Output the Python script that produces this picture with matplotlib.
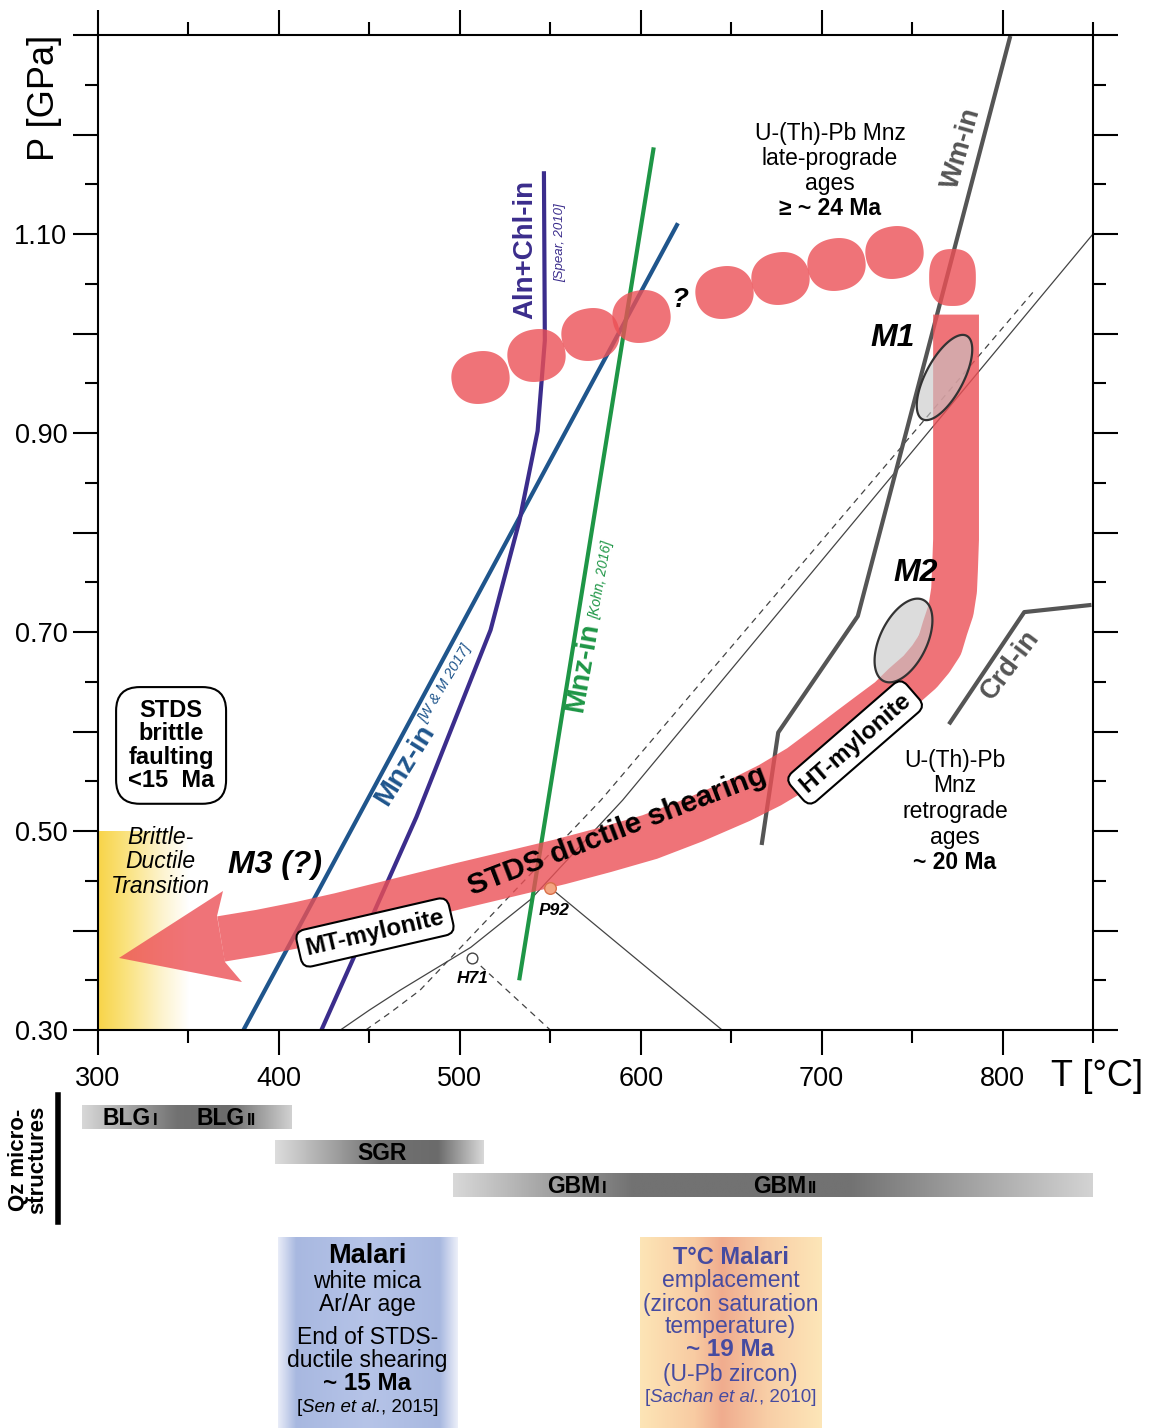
import numpy as np
import matplotlib
matplotlib.use('Agg')
import matplotlib.pyplot as plt
from matplotlib.path import Path
from matplotlib.lines import Line2D
from matplotlib.patches import Polygon
from matplotlib.ticker import FixedLocator, FuncFormatter

plt.rcParams['font.family'] = ['Liberation Sans', 'DejaVu Sans']

# ---------------- data (T in degC, P in GPa) ----------------
# reaction lines
mnz_wm_T = [381, 620]
mnz_wm_P = [0.302, 1.109]
aln_T = [424, 476, 517, 533, 543, 547, 546.5]
aln_P = [0.302, 0.514, 0.702, 0.812, 0.902, 0.993, 1.161]
mnz_kohn_T = [533, 607]
mnz_kohn_P = [0.352, 1.185]
wm_T = [667, 676, 720, 804]
wm_P = [0.488, 0.599, 0.716, 1.297]
crd_T = [771, 812, 848]
crd_P = [0.609, 0.720, 0.727]
# thin geotherm-like lines
geo_T = [434, 450, 467, 486, 506, 539, 590, 850]
geo_P = [0.300, 0.320, 0.340, 0.361, 0.383, 0.431, 0.531, 1.100]
geo_dash_T = [448, 462, 478, 578, 818]
geo_dash_P = [0.300, 0.318, 0.340, 0.531, 1.044]
p92_T, p92_P = 550, 0.443
p92_line_T = [550, 645]
p92_line_P = [0.443, 0.300]
h71_T, h71_P = 507, 0.372
h71_line_T = [507, 550]
h71_line_P = [0.372, 0.300]

# prograde monazite blobs
prograde_T = [511, 542, 572, 600, 646, 677, 708, 740]
prograde_P = [0.956, 0.978, 1.000, 1.018, 1.042, 1.056, 1.070, 1.082]
peak_T, peak_P = 772, 1.057

# retrograde P-T path (centre line, from peak to the arrow) and arrow head
path_T = [774.3, 774.3, 773.7, 773.2, 771.5, 768.2, 765.4, 760.4, 754.4,
          745.6, 737.8, 726.7, 715.7, 702.0, 688.0, 671.4, 654.9, 629.5,
          605.1, 580.2, 555.4, 527.8, 500.1, 478.0, 455.9, 433.8, 411.7,
          389.6, 368.0]
path_P = [1.019, 0.793, 0.762, 0.742, 0.722, 0.704, 0.687, 0.673, 0.660,
          0.646, 0.632, 0.617, 0.602, 0.583, 0.564, 0.546, 0.531, 0.511,
          0.494, 0.481, 0.469, 0.457, 0.445, 0.435, 0.425, 0.415, 0.406,
          0.398, 0.3915]
head_T = [365.8, 369.1, 311.6, 379.6, 370.2]
head_P = [0.4146, 0.4397, 0.3724, 0.3482, 0.3683]

# metamorphic stages (ellipses)
m1_T, m1_P = 767.7, 0.956
m2_T, m2_P = 745.0, 0.692

# Qz microstructure ranges (degC)
blg_range = (291, 407)
sgr_range = (398, 513)
gbm_range = (496, 849.5)
malari_ar_range = (399.5, 498.5)
malari_zr_range = (599.6, 699.7)

# ---------------- figure ----------------
W, H = 1151, 1428
fig = plt.figure(figsize=(W / 100, H / 100), dpi=100)
ax = fig.add_axes([98 / W, 1 - 1030 / H, 995 / W, 995 / H])
ax.set_xlim(300, 850)
ax.set_ylim(0.30, 1.30)


def hgrad(axis, x0, x1, y0, y1, stops, z=1):
    pos = np.array([s[0] for s in stops])
    cols = np.array([s[1] for s in stops], dtype=float) / 255.0
    xs = np.linspace(0, 1, 300)
    img = np.stack([np.interp(xs, pos, cols[:, k]) for k in range(3)], axis=-1)[None, :, :]
    im = axis.imshow(img, extent=[x0, x1, y0, y1], aspect='auto',
                     interpolation='bilinear', zorder=z)
    im.set_clip_on(False)
    return im


# brittle-ductile transition zone
hgrad(ax, 300, 350, 0.30, 0.50,
      [(0, (248, 212, 72)), (0.3, (250, 226, 125)), (0.7, (253, 243, 205)), (1, (255, 255, 255))])

# thin lines
ax.plot(geo_T, geo_P, color='#444444', lw=0.9, zorder=2)
ax.plot(geo_dash_T, geo_dash_P, color='#444444', lw=0.9, ls=(0, (5, 4)), zorder=2)
ax.plot(p92_line_T, p92_line_P, color='#444444', lw=0.9, zorder=2)
ax.plot(h71_line_T, h71_line_P, color='#444444', lw=0.9, ls=(0, (5, 4)), zorder=2)

# reaction lines
ax.plot(mnz_wm_T, mnz_wm_P, color='#1f558c', lw=3, zorder=2.2)
ax.plot(aln_T, aln_P, color='#3b2d8c', lw=3, zorder=2.2)
ax.plot(mnz_kohn_T, mnz_kohn_P, color='#1e9646', lw=3, zorder=2.2)
ax.plot(wm_T, wm_P, color='#555555', lw=3, zorder=2.2)
ax.plot(crd_T, crd_P, color='#555555', lw=3, zorder=2.2)

RED = '#ec5056'


def superellipse(w, h, n=2.2, tilt=0.0):
    t = np.linspace(0, 2 * np.pi, 120, endpoint=False)
    c, s = np.cos(t), np.sin(t)
    x = w * np.sign(c) * np.abs(c) ** (2 / n)
    y = h * np.sign(s) * np.abs(s) ** (2 / n)
    a = np.deg2rad(tilt)
    xr = x * np.cos(a) - y * np.sin(a)
    yr = x * np.sin(a) + y * np.cos(a)
    v = np.column_stack([xr, yr])
    return Path(np.vstack([v, v[:1]]), closed=True)


# prograde blobs
ax.scatter(prograde_T, prograde_P, marker=superellipse(1.0, 0.9, tilt=10),
           s=42 ** 2, color=RED, alpha=0.8, lw=0, zorder=3)
ax.scatter([peak_T], [peak_P], marker=superellipse(0.82, 1.0, n=2.6),
           s=41 ** 2, color=RED, alpha=0.8, lw=0, zorder=3)

# retrograde path
ax.plot(path_T, path_P, color=RED, alpha=0.8, lw=33, solid_capstyle='butt',
        solid_joinstyle='round', zorder=3)
ax.add_patch(Polygon(np.column_stack([head_T, head_P]), closed=True,
                     fc=RED, ec='none', alpha=0.8, zorder=3))


def ellipse_marker(ratio, angle):
    t = np.linspace(0, 2 * np.pi, 120, endpoint=False)
    x, y = np.cos(t), ratio * np.sin(t)
    a = np.deg2rad(angle)
    v = np.column_stack([x * np.cos(a) - y * np.sin(a), x * np.sin(a) + y * np.cos(a)])
    return Path(np.vstack([v, v[:1]]), closed=True), np.max(np.abs(v))


for (T, P, L, r, ang) in [(m1_T, m1_P, 68, 0.40, 62), (m2_T, m2_P, 65, 0.52, 64)]:
    mk, resc = ellipse_marker(r, ang)
    ax.scatter([T], [P], marker=mk, s=(L * resc) ** 2,
               facecolors=[(0.78, 0.78, 0.78, 0.62)], edgecolors='#333333',
               linewidths=1.6, zorder=4)

# sample points
ax.scatter([p92_T], [p92_P], s=70, facecolors='#f4a582', edgecolors='#d9704a', lw=1, zorder=4)
ax.scatter([h71_T], [h71_P], s=60, facecolors='white', edgecolors='#444444', lw=1, zorder=4)

# ---------------- axes styling ----------------
ax.xaxis.set_major_locator(FixedLocator([300, 400, 500, 600, 700, 800]))
ax.xaxis.set_minor_locator(FixedLocator([350, 450, 550, 650, 750, 850]))
ax.yaxis.set_major_locator(FixedLocator(np.round(np.arange(0.3, 1.31, 0.1), 2)))
ax.yaxis.set_minor_locator(FixedLocator(np.round(np.arange(0.35, 1.26, 0.1), 2)))
ax.yaxis.set_major_formatter(FuncFormatter(
    lambda v, _: f'{v:.2f}' if (round(v * 10) % 2 == 1 and v < 1.25) else ''))
ax.tick_params(which='both', direction='out', top=True, right=True, width=1.5,
               labelsize=19.5)
ax.tick_params(which='major', length=18)
ax.tick_params(which='minor', length=9.5)
ax.tick_params(axis='x', pad=8)
ax.tick_params(axis='y', pad=4)
for sp in ax.spines.values():
    sp.set_linewidth(1.5)

fig.text(45 / W, 1 - 98 / H, 'P [GPa]', rotation=90, ha='center', va='center', fontsize=26)
fig.text(1097 / W, 1 - 1077 / H, 'T [°C]', ha='center', va='center', fontsize=26)

# ---------------- labels in main panel ----------------
def stack(lines, T, P, step, **kw):
    for i, (txt, extra) in enumerate(lines):
        opts = dict(kw)
        opts.update(extra)
        ax.annotate(txt, xy=(T, P), xytext=(0, -i * step), textcoords='offset points',
                    ha='center', va='center', zorder=6, **opts)


stack([('U-(Th)-Pb Mnz', {}), ('late-prograde', {}), ('ages', {}),
       ('≥ ~ 24 Ma', {'fontweight': 'bold'})], 704.6, 1.201, 18, fontsize=16.5)
stack([('U-(Th)-Pb', {}), ('Mnz', {}), ('retrograde', {}), ('ages', {}),
       ('~ 20 Ma', {'fontweight': 'bold'})], 773.7, 0.571, 18.4, fontsize=16.5)
stack([('Brittle-', {}), ('Ductile', {}), ('Transition', {})], 334.3, 0.493, 17.3,
      fontsize=16.5, style='italic')

ax.text(340.4, 0.586, 'STDS\nbrittle\nfaulting\n<15  Ma', ha='center', va='center',
        fontsize=17, fontweight='bold', linespacing=1.02, zorder=6,
        bbox=dict(boxstyle='round,pad=0.5,rounding_size=1.0', fc='white', ec='black', lw=1.5))

ax.text(777.5, 1.186, 'Wm-in', rotation=74, ha='center', va='center', fontsize=19.5,
        fontweight='bold', color='#555555', zorder=6)
ax.text(804.1, 0.667, 'Crd-in', rotation=53, ha='center', va='center', fontsize=19.5,
        fontweight='bold', color='#555555', zorder=6)
ax.text(536.0, 1.084, 'Aln+Chl-in', rotation=90, ha='center', va='center', fontsize=20,
        fontweight='bold', color='#3b2d8c', zorder=6)
ax.text(555.4, 1.091, '[Spear, 2010]', rotation=90, ha='center', va='center', fontsize=9.5,
        style='italic', color='#3b2d8c', zorder=6)
ax.text(469.7, 0.566, 'Mnz-in', rotation=58, ha='center', va='center', fontsize=20.5,
        fontweight='bold', color='#1f558c', zorder=6)
ax.text(491.8, 0.648, '[W & M 2017]', rotation=59, ha='center', va='center', fontsize=10.5,
        style='italic', color='#1f558c', zorder=6)
ax.text(568.1, 0.664, 'Mnz-in', rotation=80, ha='center', va='center', fontsize=20.5,
        fontweight='bold', color='#1e9646', zorder=6)
ax.text(578.0, 0.752, '[Kohn, 2016]', rotation=80, ha='center', va='center', fontsize=10,
        style='italic', color='#1e9646', zorder=6)

ax.text(621.7, 1.034, '?', ha='center', va='center', fontsize=20, fontweight='bold',
        style='italic', zorder=6)
ax.text(739.5, 0.995, 'M1', ha='center', va='center', fontsize=23, fontweight='bold',
        style='italic', zorder=6)
ax.text(752.2, 0.759, 'M2', ha='center', va='center', fontsize=23, fontweight='bold',
        style='italic', zorder=6)
ax.text(397.8, 0.466, 'M3 (?)', ha='center', va='center', fontsize=23, fontweight='bold',
        style='italic', zorder=6)
ax.text(587.0, 0.500, 'STDS ductile shearing', rotation=21, ha='center', va='center',
        fontsize=21.5, fontweight='bold', zorder=6)
ax.text(453.1, 0.398, 'MT-mylonite', rotation=13, ha='center', va='center', fontsize=17.5,
        fontweight='bold', zorder=6,
        bbox=dict(boxstyle='round,pad=0.3,rounding_size=0.4', fc='white', ec='black', lw=1.5))
ax.text(718.5, 0.589, 'HT-mylonite', rotation=41, ha='center', va='center', fontsize=17.5,
        fontweight='bold', zorder=6,
        bbox=dict(boxstyle='round,pad=0.3,rounding_size=0.4', fc='white', ec='black', lw=1.5))
ax.text(552.0, 0.420, 'P92', ha='center', va='center', fontsize=12.5, fontweight='bold',
        style='italic', zorder=6)
ax.text(507.3, 0.352, 'H71', ha='center', va='center', fontsize=12.5, fontweight='bold',
        style='italic', zorder=6)

# ---------------- lower panel: Qz microstructures & Malari ----------------
ax2 = fig.add_axes([98 / W, 0, 995 / W, (H - 1090) / H])
ax2.axis('off')

rows = {'blg': (1105, 1129), 'sgr': (1140, 1164), 'gbm': (1173, 1197)}


def gray_stops(prof):
    return [(p, (int(g * 255),) * 3) for p, g in prof]


hgrad(ax2, blg_range[0], blg_range[1], rows['blg'][1], rows['blg'][0],
      gray_stops([(0, 0.85), (0.45, 0.45), (0.7, 0.42), (1, 0.82)]))
hgrad(ax2, sgr_range[0], sgr_range[1], rows['sgr'][1], rows['sgr'][0],
      gray_stops([(0, 0.87), (0.5, 0.45), (0.78, 0.42), (1, 0.85)]))
hgrad(ax2, gbm_range[0], gbm_range[1], rows['gbm'][1], rows['gbm'][0],
      gray_stops([(0, 0.85), (0.28, 0.45), (0.62, 0.45), (1, 0.83)]))

box_top, box_bot = 1237, 1428
hgrad(ax2, malari_ar_range[0], malari_ar_range[1], box_bot, box_top,
      [(0, (232, 236, 248)), (0.1, (168, 184, 224)), (0.5, (182, 196, 232)),
       (0.9, (168, 184, 224)), (1, (236, 239, 249))])
hgrad(ax2, malari_zr_range[0], malari_zr_range[1], box_bot, box_top,
      [(0, (253, 229, 182)), (0.3, (248, 203, 162)), (0.45, (240, 172, 142)),
       (0.7, (248, 206, 166)), (1, (253, 230, 184))])
ax2.set_xlim(300, 850)
ax2.set_ylim(H, 1090)


def subscripted(x, y, main, sub):
    ax2.text(x, y, main, ha='right', va='baseline', fontsize=16.5, fontweight='bold', zorder=5)
    ax2.annotate(sub, xy=(x, y), xytext=(1.5, 0), textcoords='offset points', ha='left',
                 va='baseline', fontsize=12, fontweight='bold', zorder=5)


subscripted(329.3, 1125, 'BLG', 'I')
subscripted(381.3, 1125, 'BLG', 'II')
ax2.text(457.0, 1160, 'SGR', ha='center', va='baseline', fontsize=16.5, fontweight='bold', zorder=5)
subscripted(577.5, 1193, 'GBM', 'I')
subscripted(691.4, 1193, 'GBM', 'II')

fig.text(28 / W, 1 - 1160 / H, 'Qz micro-\nstructures', rotation=90, ha='center', va='center',
         fontsize=16, fontweight='bold', linespacing=0.85)
fig.add_artist(Line2D([58 / W, 58 / W], [1 - 1095 / H, 1 - 1222 / H], lw=4, color='black',
                      transform=fig.transFigure))


def mixed(axis, x, y, parts, fs, color):
    # draw pieces of differing style side by side, centred on x
    r = fig.canvas.get_renderer()
    widths = []
    for txt, st in parts:
        t = axis.text(0, 0, txt, fontsize=fs, style=st)
        widths.append(t.get_window_extent(r).width)
        t.remove()
    off = -sum(widths) / 2
    for (txt, st), w in zip(parts, widths):
        axis.annotate(txt, xy=(x, y), xytext=(off * 72 / fig.dpi, 0), textcoords='offset points',
                      ha='left', va='center', fontsize=fs, style=st, color=color, zorder=5)
        off += w


ar_x = np.mean(malari_ar_range)
for y, txt, kw in [(1256, 'Malari', dict(fontsize=19.5, fontweight='bold')),
                   (1281, 'white mica', {}), (1305, 'Ar/Ar age', {}),
                   (1337, 'End of STDS-', {}), (1360, 'ductile shearing', {}),
                   (1384, '~ 15 Ma', dict(fontweight='bold', fontsize=17.5))]:
    opts = dict(fontsize=16.5)
    opts.update(kw)
    ax2.text(ar_x, y, txt, ha='center', va='center', zorder=5, **opts)
mixed(ax2, ar_x, 1408, [('[', 'normal'), ('Sen et al.', 'italic'), (', 2015]', 'normal')],
      13.5, 'black')

zr_x = np.mean(malari_zr_range)
for y, txt, kw in [(1257, 'T°C Malari', dict(fontweight='bold', fontsize=17)),
                   (1281, 'emplacement', {}), (1304, '(zircon saturation', {}),
                   (1327, 'temperature)', {}),
                   (1350, '~ 19 Ma', dict(fontweight='bold', fontsize=17.5)),
                   (1374, '(U-Pb zircon)', {})]:
    opts = dict(fontsize=16.5)
    opts.update(kw)
    ax2.text(zr_x, y, txt, ha='center', va='center', color='#464ba0', zorder=5, **opts)
mixed(ax2, zr_x, 1398, [('[', 'normal'), ('Sachan et al.', 'italic'), (', 2010]', 'normal')],
      13.5, '#464ba0')

fig.savefig('out.png', dpi=100)
